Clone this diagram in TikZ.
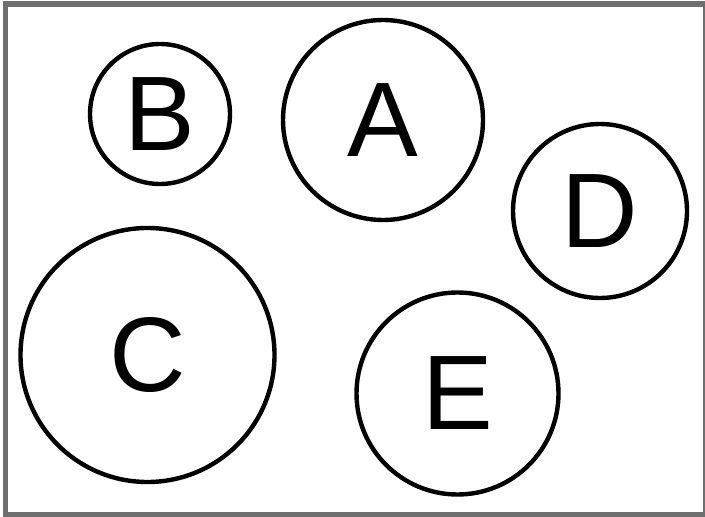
\documentclass[tikz,border=0pt]{standalone}
\usepackage{fontspec}
\setmainfont{Liberation Sans}
\usepackage{xcolor}
\usepackage{tikz}
\usetikzlibrary{positioning}
\definecolor{framegray}{RGB}{110,110,110}

\begin{document}
\begin{tikzpicture}[
  x=0.5pt, y=-0.5pt,
  ball/.style={circle, draw=black, line width=2.2pt, inner sep=0pt, font=\fontsize{53}{60}\selectfont},
  frame/.style={draw=framegray, line width=2.6pt}
]
\useasboundingbox (0,0) rectangle (705,517);
\draw[frame] (5.5,4) rectangle (706,514.5);

\node[ball, minimum size=100pt] (a) at (383,120) {A};
\node[ball, minimum size=70pt] (b) at (160,114) {B};
\node[ball, minimum size=127pt] (c) at (147.5,355) {C};
\node[ball, minimum size=87pt] (d) at (600,211) {D};
\node[ball, minimum size=101pt] (e) at (457.5,393.5) {E};
\end{tikzpicture}
\end{document}
